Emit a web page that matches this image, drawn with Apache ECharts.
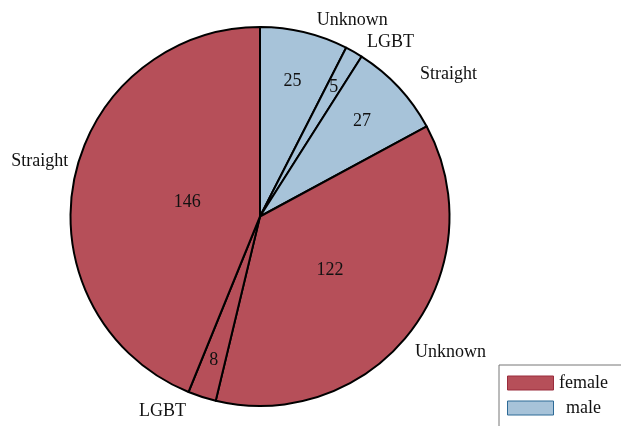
<!DOCTYPE html>
<html>
<head>
<meta charset="utf-8">
<script src="https://cdn.jsdelivr.net/npm/echarts@6/dist/echarts.min.js"></script>
<style>
  html, body { margin: 0; padding: 0; background: #fff; overflow: hidden; }
  /* canvas a bit larger than the window so the legend box runs off the edge */
  #chart { width: 700px; height: 480px; }
</style>
</head>
<body>
<div id="chart"></div>
<script>
// groups, slices drawn clockwise from the top: male first, then female
const maleNames = ['Unknown', 'LGBT', 'Straight']
const maleValues = [25, 5, 27]
const femaleNames = ['Unknown', 'LGBT', 'Straight']
const femaleValues = [122, 8, 146]

// nudges for the outside name labels [dx, dy]
const maleLabelShift = [[2, -6], [1, -4], [8, -9]]
const femaleLabelShift = [[-9, 17], [-5, 9], [9, -18]]

const colors = { female: '#b64f59', male: '#a7c3d9' }
const font = 'Liberation Serif'
const center = [260, 216.5]
const R = 189.5

const sum = arr => arr.reduce((a, b) => a + b, 0)
const total = sum(maleValues) + sum(femaleValues)
const maleStart = 90
const maleEnd = maleStart - sum(maleValues) / total * 360
const femaleStart = maleEnd
const femaleEnd = maleStart - 360

function items(names, values, showValue) {
  return names.map((n, i) => ({
    name: n,
    value: values[i],
    label: { show: showValue ? showValue(values[i]) : true }
  }))
}

// main slices + outside name labels
function sliceSeries(name, names, values, start, end, shift) {
  return {
    name: name,
    type: 'pie',
    center: center,
    radius: [0, R],
    startAngle: start,
    endAngle: end,
    clockwise: true,
    avoidLabelOverlap: false,
    animation: false,
    itemStyle: { color: colors[name], borderColor: '#000', borderWidth: 2 },
    label: {
      show: true,
      position: 'outside',
      formatter: '{b}',
      color: '#111',
      fontFamily: font,
      fontSize: 18
    },
    labelLine: { show: false, length: 6, length2: 4 },
    labelLayout: function (p) {
      return { dx: shift[p.dataIndex][0], dy: shift[p.dataIndex][1] }
    },
    emphasis: { disabled: true },
    data: items(names, values)
  }
}

// transparent ring used only to place the value labels
function valueSeries(names, values, start, end, r0, r1, showValue) {
  return {
    type: 'pie',
    center: center,
    radius: [r0, r1],
    startAngle: start,
    endAngle: end,
    clockwise: true,
    silent: true,
    animation: false,
    itemStyle: { color: 'rgba(0,0,0,0)' },
    label: {
      position: 'inside',
      formatter: '{c}',
      color: '#111',
      fontFamily: font,
      fontSize: 18
    },
    labelLine: { show: false },
    data: items(names, values, showValue)
  }
}

const chart = echarts.init(document.getElementById('chart'))
chart.setOption({
  backgroundColor: '#fff',
  legend: {
    orient: 'vertical',
    left: 499,
    top: 365,
    padding: [9, 40, 30, 8],
    icon: 'rect',
    itemWidth: 46,
    itemHeight: 14,
    itemGap: 7,
    borderColor: '#777',
    borderWidth: 1,
    data: [
      { name: 'female', itemStyle: { color: colors.female, borderColor: '#9a2c3c', borderWidth: 1 } },
      { name: 'male', itemStyle: { color: colors.male, borderColor: '#2d6a96', borderWidth: 1 } }
    ],
    formatter: '{a|{name}}',
    textStyle: {
      fontFamily: font,
      fontSize: 18,
      color: '#111',
      rich: { a: { width: 50, align: 'center', fontFamily: font, fontSize: 18, color: '#111' } }
    }
  },
  series: [
    sliceSeries('male', maleNames, maleValues, maleStart, maleEnd, maleLabelShift),
    sliceSeries('female', femaleNames, femaleValues, femaleStart, femaleEnd, femaleLabelShift),
    valueSeries(maleNames, maleValues, maleStart, maleEnd, R * 0.44, R, v => v >= 10),
    valueSeries(maleNames, maleValues, maleStart, maleEnd, R * 0.54, R, v => v < 10),
    valueSeries(femaleNames, femaleValues, femaleStart, femaleEnd, R * 0.56, R, v => v < 50),
    valueSeries(femaleNames, femaleValues, femaleStart, femaleEnd, 0, R * 0.9, v => v >= 50 && v < 130),
    valueSeries(femaleNames, femaleValues, femaleStart, femaleEnd, 0, R * 0.75, v => v >= 130)
  ]
})
</script>
</body>
</html>
